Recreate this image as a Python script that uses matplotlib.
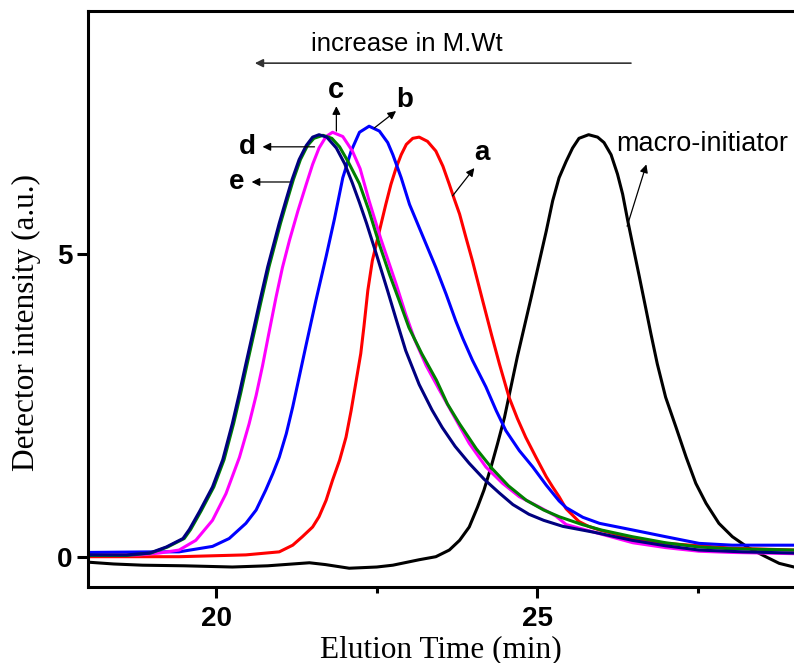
import matplotlib
matplotlib.use("Agg")
import matplotlib.pyplot as plt

# GPC traces (elution time in min, intensity a.u.)
x_macro = [18.0, 18.4, 18.85, 19.5, 20.25, 20.8, 21.45, 21.7, 22.07, 22.5, 22.75, 23.16,
           23.42, 23.63, 23.79, 23.94, 24.07, 24.17, 24.28, 24.38, 24.49, 24.59, 24.69, 24.80,
           24.91, 25.03, 25.14, 25.24, 25.34, 25.45, 25.55, 25.65, 25.80, 25.94, 26.04, 26.15,
           26.25, 26.33, 26.41, 26.48, 26.59, 26.69, 26.77, 26.87, 27.0, 27.16, 27.32, 27.47,
           27.63, 27.83, 28.04, 28.30, 28.56, 28.77, 29.0]
y_macro = [-0.09, -0.12, -0.14, -0.15, -0.17, -0.15, -0.10, -0.13, -0.19, -0.17, -0.14, -0.05,
           0.0, 0.11, 0.27, 0.49, 0.82, 1.10, 1.48, 1.86, 2.30, 2.80, 3.30, 3.80,
           4.30, 4.86, 5.37, 5.87, 6.25, 6.52, 6.74, 6.90, 6.96, 6.92, 6.83, 6.63,
           6.31, 5.98, 5.54, 5.18, 4.62, 4.10, 3.68, 3.18, 2.63, 2.14, 1.64, 1.21,
           0.88, 0.55, 0.33, 0.14, 0.0, -0.11, -0.17]

x_a = [18.0, 19.42, 20.46, 20.98, 21.19, 21.34, 21.50, 21.60, 21.71, 21.81, 21.92, 22.02,
       22.10, 22.18, 22.25, 22.30, 22.36, 22.43, 22.54, 22.64, 22.72, 22.80, 22.88, 22.96,
       23.06, 23.16, 23.29, 23.42, 23.53, 23.63, 23.71, 23.79, 23.89, 23.99, 24.15, 24.29,
       24.41, 24.56, 24.69, 24.82, 24.98, 25.14, 25.24, 25.34, 25.45, 25.65, 25.80, 25.97,
       26.49, 27.0, 28.04, 29.0]
y_a = [0.0, 0.0, 0.03, 0.08, 0.19, 0.33, 0.49, 0.66, 0.93, 1.26, 1.59, 1.97,
       2.41, 2.91, 3.35, 3.80, 4.39, 4.88, 5.37, 5.81, 6.14, 6.41, 6.63, 6.80,
       6.90, 6.92, 6.85, 6.69, 6.44, 6.14, 5.89, 5.65, 5.26, 4.88, 4.22, 3.65,
       3.18, 2.63, 2.28, 1.97, 1.64, 1.32, 1.15, 0.99, 0.79, 0.58, 0.50, 0.44,
       0.30, 0.22, 0.14, 0.11]

x_b = [18.0, 19.0, 19.42, 19.94, 20.20, 20.46, 20.62, 20.77, 20.88, 20.98, 21.09, 21.19,
       21.29, 21.40, 21.55, 21.71, 21.84, 21.97, 22.10, 22.23, 22.38, 22.54, 22.67, 22.75,
       22.88, 23.01, 23.14, 23.27, 23.42, 23.58, 23.73, 23.84, 23.99, 24.20, 24.36, 24.51,
       24.72, 24.93, 25.14, 25.34, 25.45, 25.71, 25.97, 26.49, 27.0, 27.52, 28.04, 29.0]
y_b = [0.07, 0.08, 0.08, 0.17, 0.30, 0.55, 0.77, 1.10, 1.37, 1.64, 2.03, 2.47,
       2.96, 3.50, 4.22, 4.95, 5.57, 6.25, 6.69, 7.00, 7.10, 7.02, 6.83, 6.63,
       6.25, 5.81, 5.48, 5.15, 4.77, 4.33, 3.89, 3.60, 3.24, 2.80, 2.41, 2.08,
       1.75, 1.48, 1.18, 0.92, 0.81, 0.65, 0.55, 0.44, 0.33, 0.22, 0.19, 0.19]

x_c = [18.0, 18.8, 19.11, 19.42, 19.68, 19.94, 20.15, 20.36, 20.51, 20.62, 20.72, 20.81,
       20.93, 21.03, 21.14, 21.27, 21.40, 21.50, 21.60, 21.71, 21.81, 21.97, 22.12, 22.24,
       22.38, 22.56, 22.80, 22.95, 23.09, 23.27, 23.47, 23.68, 23.94, 24.20, 24.46, 24.72,
       25.03, 25.29, 25.45, 25.97, 26.49, 27.0, 27.52, 28.04, 29.0]
y_c = [0.02, 0.03, 0.06, 0.11, 0.27, 0.60, 1.04, 1.64, 2.19, 2.66, 3.15, 3.64,
       4.28, 4.77, 5.22, 5.70, 6.14, 6.47, 6.74, 6.93, 7.00, 6.93, 6.69, 6.40,
       5.87, 5.25, 4.50, 4.00, 3.58, 3.15, 2.76, 2.36, 1.87, 1.48, 1.21, 0.99,
       0.82, 0.67, 0.53, 0.38, 0.23, 0.15, 0.09, 0.07, 0.05]

x_d = [18.0, 18.6, 18.98, 19.24, 19.50, 19.60, 19.76, 19.96, 20.12, 20.27, 20.38, 20.48,
       20.59, 20.69, 20.82, 21.0, 21.11, 21.20, 21.31, 21.42, 21.52, 21.66, 21.80, 21.92,
       22.05, 22.23, 22.38, 22.54, 22.70, 22.85, 23.0, 23.20, 23.43, 23.60, 23.79, 24.05,
       24.30, 24.55, 24.83, 25.10, 25.34, 25.70, 26.0, 26.48, 27.0, 27.52, 28.04, 29.0]
y_d = [0.02, 0.02, 0.06, 0.16, 0.30, 0.45, 0.75, 1.15, 1.60, 2.20, 2.70, 3.18,
       3.70, 4.18, 4.78, 5.50, 5.90, 6.22, 6.55, 6.78, 6.90, 6.95, 6.90, 6.76,
       6.52, 6.15, 5.70, 5.15, 4.65, 4.22, 3.78, 3.35, 2.91, 2.52, 2.19, 1.78,
       1.45, 1.17, 0.93, 0.77, 0.66, 0.53, 0.44, 0.33, 0.23, 0.16, 0.13, 0.11]

x_e = [18.0, 18.6, 18.96, 19.22, 19.48, 19.58, 19.74, 19.94, 20.10, 20.25, 20.36, 20.46,
       20.57, 20.67, 20.80, 20.98, 21.09, 21.18, 21.29, 21.40, 21.50, 21.60, 21.72, 21.87,
       22.0, 22.12, 22.23, 22.34, 22.49, 22.67, 22.80, 22.95, 23.16, 23.36, 23.52, 23.72,
       23.94, 24.17, 24.41, 24.62, 24.87, 25.10, 25.40, 25.90, 26.48, 27.0, 27.52, 28.2, 29.0]
y_e = [0.03, 0.03, 0.06, 0.16, 0.30, 0.45, 0.75, 1.15, 1.60, 2.20, 2.70, 3.18,
       3.70, 4.18, 4.78, 5.50, 5.90, 6.22, 6.55, 6.78, 6.92, 6.96, 6.92, 6.74,
       6.48, 6.16, 5.84, 5.50, 5.00, 4.38, 3.92, 3.40, 2.84, 2.42, 2.13, 1.82,
       1.54, 1.28, 1.05, 0.86, 0.70, 0.60, 0.50, 0.40, 0.27, 0.18, 0.11, 0.08, 0.06]

sans = "Liberation Sans"
serif = "Liberation Serif"

fig = plt.figure(figsize=(7.94, 6.63), dpi=100)
ax = fig.add_axes([0.1108, 0.1146, 0.8892, 0.8688])

lw = 2.2
ax.plot(x_macro, y_macro, color="black", lw=lw)
ax.plot(x_a, y_a, color="#FF0000", lw=lw)
ax.plot(x_b, y_b, color="#0000FF", lw=lw)
ax.plot(x_c, y_c, color="#FF00FF", lw=lw)
ax.plot(x_d, y_d, color="#008000", lw=lw)
ax.plot(x_e, y_e, color="#000080", lw=lw)

ax.set_xlim(18, 29)
ax.set_ylim(-0.5, 9)
ax.set_xticks([20, 25])
ax.set_xticks([22.5, 27.5], minor=True)
ax.set_yticks([0, 5])

for s in ["left", "bottom", "top"]:
    ax.spines[s].set_linewidth(2.2)
ax.spines["right"].set_visible(False)

ax.tick_params(axis="both", which="major", direction="out", length=8, width=2.2)
ax.tick_params(axis="x", which="minor", direction="out", length=4, width=2.2)
ax.tick_params(axis="x", which="major", pad=6)
ax.tick_params(axis="y", which="major", pad=3)
for lab in ax.get_xticklabels() + ax.get_yticklabels():
    lab.set_fontfamily(sans)
    lab.set_fontweight("bold")
    lab.set_fontsize(20)

ax.set_xlabel("Elution Time (min)", fontfamily=serif, fontsize=22.5, labelpad=2)
ax.set_ylabel("Detector intensity (a.u.)", fontfamily=serif, fontsize=22.5)
ax.yaxis.set_label_coords(-0.066, 0.46)

arr = dict(arrowstyle="-|>", lw=0.9, color="black", mutation_scale=12, shrinkA=0, shrinkB=0)

ax.annotate("", xy=(20.6, 8.14), xytext=(26.46, 8.14),
            arrowprops=dict(arrowstyle="-|>", lw=1.2, color="#333333", mutation_scale=12,
                            shrinkA=0, shrinkB=0))
ax.text(22.97, 8.45, "increase in M.Wt", fontfamily=sans, fontsize=18.5, ha="center", va="center")

ax.annotate("", xy=(26.70, 6.47), xytext=(26.40, 5.45), arrowprops=arr)
ax.text(26.23, 6.80, "macro-initiator", fontfamily=sans, fontsize=19.5, ha="left", va="center")

ax.annotate("", xy=(24.02, 6.41), xytext=(23.68, 5.95), arrowprops=arr)
ax.text(24.14, 6.66, "a", fontfamily=sans, fontweight="bold", fontsize=20, ha="center", va="center")

ax.annotate("", xy=(22.80, 7.35), xytext=(22.46, 7.07), arrowprops=arr)
ax.text(22.94, 7.53, "b", fontfamily=sans, fontweight="bold", fontsize=20, ha="center", va="center")

ax.annotate("", xy=(21.87, 7.43), xytext=(21.87, 7.02), arrowprops=arr)
ax.text(21.87, 7.70, "c", fontfamily=sans, fontweight="bold", fontsize=21, ha="center", va="center")

ax.annotate("", xy=(20.72, 6.76), xytext=(21.53, 6.76), arrowprops=arr)
ax.text(20.48, 6.76, "d", fontfamily=sans, fontweight="bold", fontsize=20, ha="center", va="center")

ax.annotate("", xy=(20.55, 6.18), xytext=(21.14, 6.18), arrowprops=arr)
ax.text(20.31, 6.18, "e", fontfamily=sans, fontweight="bold", fontsize=20, ha="center", va="center")

fig.savefig("out.png", dpi=100)
